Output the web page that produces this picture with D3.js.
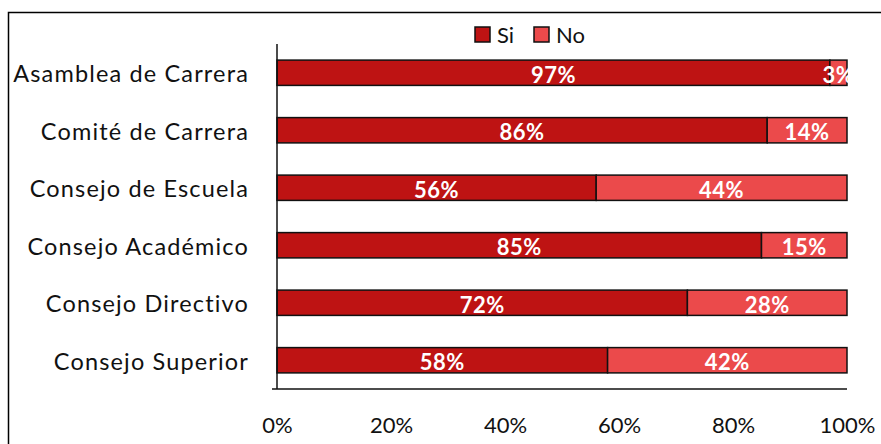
<!DOCTYPE html>
<html><head><meta charset="utf-8">
<script src="https://cdn.jsdelivr.net/npm/d3@7/dist/d3.min.js"></script>
<style>body{margin:0;background:#fff}svg{display:block}</style>
</head><body><svg id="c" width="881" height="444"></svg>
<script>
const categories = ["Asamblea de Carrera","Comité de Carrera","Consejo de Escuela","Consejo Académico","Consejo Directivo","Consejo Superior"];
const siValues = [97,86,56,85,72,58];
const noValues = [3,14,44,15,28,42];
const seriesNames = ["Si","No"];
const colors = ["#BE1313","#EB4A4B"];
const tickValues = [0,20,40,60,80,100];

const svg = d3.select("#c");
const font = "Lato, 'Open Sans', sans-serif";
svg.append("rect").attr("x",8.5).attr("y",12.5).attr("width",900).attr("height",460)
  .attr("fill","none").attr("stroke","#000").attr("stroke-width",1.5);

const m = {left:277, right:847, top:44, bottom:389};
const x = d3.scaleLinear().domain([0,100]).range([m.left,m.right]);
const y = d3.scaleBand().domain(categories).range([m.top,m.bottom]).paddingInner(0.56).paddingOuter(0.28);

const data = categories.map((c,i)=>({c, si:siValues[i], no:noValues[i]}));
const stack = d3.stack().keys(["si","no"])(data);

const g = svg.append("g");
stack.forEach((layer,li)=>{
  g.selectAll(null).data(layer).enter().append("rect")
    .attr("x",d=>x(d[0])).attr("y",d=>y(d.data.c))
    .attr("width",d=>x(d[1])-x(d[0])).attr("height",y.bandwidth())
    .attr("fill",colors[li]).attr("stroke","#111").attr("stroke-width",1.5);
});
stack.forEach((layer,li)=>{
  g.selectAll(null).data(layer).enter().append("text")
    .attr("x",d=>(x(d[0])+x(d[1]))/2).attr("y",d=>y(d.data.c)+y.bandwidth()/2+10)
    .attr("text-anchor","middle").attr("fill","#fff").attr("font-weight","bold")
    .attr("font-family",font).attr("font-size",22).attr("letter-spacing","0.5px")
    .text(d=>(d[1]-d[0])+"%");
});

// axes
const ya = svg.append("g").attr("transform",`translate(${m.left},0)`)
  .call(d3.axisLeft(y).tickSize(0).tickPadding(28));
ya.select(".domain").attr("stroke","#111").attr("stroke-width",1.5).attr("d",`M0,${m.top}V${m.bottom}`);
ya.selectAll("text").attr("font-family",font).attr("font-size",23.5).attr("fill","#111").attr("letter-spacing","1.15px")
  .attr("dy","0.4em");

const xa = svg.append("g").attr("transform",`translate(0,${m.bottom})`)
  .call(d3.axisBottom(x).tickValues(tickValues).tickSize(0).tickPadding(28).tickFormat(d=>d+"%"));
xa.select(".domain").attr("stroke","#111").attr("stroke-width",1.5).attr("d",`M${m.left-5},0H${m.right}`);
xa.selectAll("text").attr("font-family",font).attr("font-size",22).attr("fill","#111");

// legend
const lg = svg.append("g");
const lx = [475,534];
seriesNames.forEach((s,i)=>{
  lg.append("rect").attr("x",lx[i]).attr("y",27).attr("width",15).attr("height",15)
    .attr("fill",colors[i]).attr("stroke","#111").attr("stroke-width",1.5);
  lg.append("text").attr("x",lx[i]+22).attr("y",43).attr("font-family",font).attr("font-size",22)
    .attr("fill","#111").text(s);
});
</script></body></html>
